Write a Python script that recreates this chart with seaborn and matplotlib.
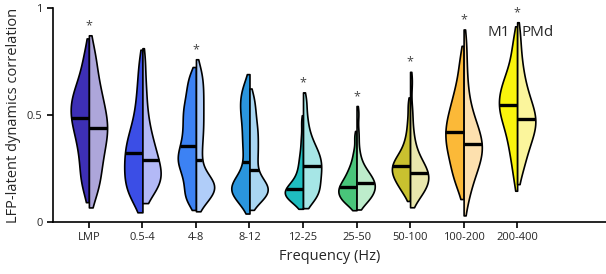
import numpy as np
import pandas as pd
import matplotlib
matplotlib.use("Agg")
import matplotlib.pyplot as plt
import seaborn as sns

bands = ["LMP", "0.5-4", "4-8", "8-12", "12-25", "25-50", "50-100", "100-200", "200-400"]
regions = ["M1", "PMd"]

# values at 5% quantile steps
m1_vals = [
    [0.15, 0.19, 0.23, 0.28, 0.32, 0.36, 0.39, 0.42, 0.45, 0.47, 0.487, 0.51, 0.53, 0.55, 0.57, 0.59, 0.61, 0.64, 0.68, 0.73, 0.80],
    [0.10, 0.12, 0.14, 0.16, 0.19, 0.21, 0.23, 0.25, 0.27, 0.295, 0.32, 0.34, 0.36, 0.38, 0.41, 0.44, 0.48, 0.53, 0.59, 0.66, 0.75],
    [0.09, 0.12, 0.155, 0.19, 0.22, 0.25, 0.27, 0.29, 0.31, 0.33, 0.355, 0.38, 0.41, 0.44, 0.47, 0.50, 0.53, 0.56, 0.60, 0.64, 0.69],
    [0.08, 0.11, 0.13, 0.14, 0.15, 0.16, 0.17, 0.18, 0.20, 0.23, 0.28, 0.33, 0.37, 0.41, 0.45, 0.49, 0.52, 0.55, 0.58, 0.61, 0.65],
    [0.09, 0.10, 0.11, 0.115, 0.12, 0.13, 0.135, 0.14, 0.145, 0.15, 0.155, 0.165, 0.175, 0.19, 0.21, 0.23, 0.26, 0.29, 0.33, 0.39, 0.47],
    [0.08, 0.09, 0.10, 0.11, 0.12, 0.125, 0.135, 0.145, 0.15, 0.16, 0.165, 0.175, 0.185, 0.195, 0.21, 0.225, 0.24, 0.26, 0.29, 0.33, 0.40],
    [0.13, 0.15, 0.17, 0.185, 0.20, 0.21, 0.22, 0.23, 0.24, 0.25, 0.26, 0.27, 0.28, 0.29, 0.30, 0.32, 0.34, 0.37, 0.41, 0.47, 0.55],
    [0.16, 0.20, 0.23, 0.26, 0.29, 0.32, 0.34, 0.36, 0.38, 0.40, 0.42, 0.44, 0.46, 0.48, 0.50, 0.53, 0.56, 0.59, 0.63, 0.69, 0.77],
    [0.20, 0.28, 0.33, 0.37, 0.41, 0.44, 0.47, 0.49, 0.51, 0.53, 0.545, 0.56, 0.58, 0.60, 0.62, 0.64, 0.66, 0.69, 0.73, 0.79, 0.86],
]
pmd_vals = [
    [0.13, 0.16, 0.20, 0.24, 0.28, 0.31, 0.34, 0.37, 0.40, 0.42, 0.44, 0.46, 0.48, 0.51, 0.54, 0.57, 0.60, 0.64, 0.69, 0.75, 0.81],
    [0.14, 0.15, 0.165, 0.18, 0.195, 0.21, 0.22, 0.235, 0.25, 0.27, 0.29, 0.31, 0.33, 0.35, 0.38, 0.41, 0.45, 0.50, 0.57, 0.65, 0.76],
    [0.09, 0.11, 0.13, 0.145, 0.16, 0.17, 0.175, 0.185, 0.20, 0.23, 0.29, 0.34, 0.39, 0.43, 0.47, 0.51, 0.55, 0.59, 0.63, 0.67, 0.72],
    [0.09, 0.11, 0.125, 0.135, 0.145, 0.155, 0.165, 0.175, 0.19, 0.21, 0.245, 0.28, 0.31, 0.34, 0.37, 0.40, 0.43, 0.46, 0.50, 0.54, 0.59],
    [0.10, 0.11, 0.13, 0.145, 0.16, 0.18, 0.20, 0.21, 0.23, 0.245, 0.26, 0.275, 0.29, 0.305, 0.32, 0.34, 0.36, 0.39, 0.43, 0.49, 0.57],
    [0.09, 0.10, 0.11, 0.12, 0.13, 0.14, 0.15, 0.16, 0.17, 0.175, 0.18, 0.19, 0.20, 0.21, 0.22, 0.235, 0.25, 0.28, 0.33, 0.41, 0.51],
    [0.11, 0.125, 0.14, 0.155, 0.17, 0.18, 0.19, 0.20, 0.21, 0.22, 0.23, 0.24, 0.25, 0.265, 0.28, 0.30, 0.33, 0.37, 0.43, 0.52, 0.66],
    [0.09, 0.16, 0.20, 0.23, 0.26, 0.28, 0.30, 0.32, 0.33, 0.35, 0.365, 0.38, 0.40, 0.42, 0.44, 0.47, 0.50, 0.55, 0.62, 0.72, 0.84],
    [0.23, 0.28, 0.32, 0.35, 0.38, 0.40, 0.42, 0.44, 0.46, 0.47, 0.48, 0.50, 0.52, 0.54, 0.56, 0.59, 0.62, 0.66, 0.71, 0.78, 0.88],
]
m1_colors = ["#3d2fb5", "#3b4ee6", "#3c82f4", "#2a95dd", "#1fbdbf", "#49c57a", "#c9c12f", "#fbb938", "#faf40c"]
pmd_colors = ["#ada6da", "#b3b9f6", "#b0cdf9", "#a9d6f2", "#a6e6e6", "#bdeccb", "#e9e7ad", "#fde0ae", "#fbf59c"]
significant = [True, False, True, False, True, True, True, True, True]
# kde smoothing per band
bw_adjust = [0.75, 0.7, 0.45, 0.5, 0.65, 0.7, 0.7, 0.75, 0.75]

rows = []
for i, b in enumerate(bands):
    for v in m1_vals[i]:
        rows.append((b, "M1", v))
    for v in pmd_vals[i]:
        rows.append((b, "PMd", v))
df = pd.DataFrame(rows, columns=["band", "region", "corr"])

sns.set_style("ticks")
plt.rcParams['font.family'] = ['Open Sans', 'DejaVu Sans']

fig = plt.figure(figsize=(6.06, 2.74), dpi=100)
ax = fig.add_axes([0.0875, 0.19, 0.9125, 0.781])

for i, b in enumerate(bands):
    sns.violinplot(data=df[df["band"] == b], x="band", y="corr", hue="region",
                   order=bands, hue_order=regions, split=True, inner=None,
                   cut=0.8, bw_adjust=bw_adjust[i], density_norm="width",
                   width=0.68, linewidth=1.2, linecolor="black",
                   palette=["#888888", "#cccccc"], legend=False, ax=ax)

# recolour each half and add the median bar
tops = {}
for coll in list(ax.collections):
    verts = coll.get_paths()[0].vertices
    xs, ys = verts[:, 0], verts[:, 1]
    pos = int(round(xs.mean()))
    left = xs.mean() < pos
    vals = m1_vals[pos] if left else pmd_vals[pos]
    coll.set_facecolor(m1_colors[pos] if left else pmd_colors[pos])
    tops[pos] = max(tops.get(pos, 0), ys.max())
    med = np.median(vals)
    mask = np.abs(xs - pos) > 1e-9
    order = np.argsort(ys[mask])
    edge = np.interp(med, ys[mask][order], xs[mask][order])
    ax.plot([edge, pos], [med, med], color="black", lw=2.4, solid_capstyle="butt", zorder=5)

for i, sig in enumerate(significant):
    if sig:
        ax.text(i, tops[i] + 0.045, "*", ha="center", va="center", fontsize=9, color="#444444")

ax.text(7.87, 0.885, "M1", ha="right", va="center", fontsize=11)
ax.text(8.09, 0.885, "PMd", ha="left", va="center", fontsize=11)

ax.set_xlim(-0.67, 9.66)
ax.set_ylim(0, 1)
ax.set_yticks([0, 0.5, 1])
ax.set_yticklabels(["0", "0.5", "1"])
ax.tick_params(axis="both", labelsize=8, length=4, width=1.2, color="black")
ax.set_xlabel("Frequency (Hz)", fontsize=10.5)
ax.set_ylabel("LFP-latent dynamics correlation", fontsize=10.5)
for s in ["left", "bottom"]:
    ax.spines[s].set_linewidth(1.2)
    ax.spines[s].set_color("black")
sns.despine(ax=ax)

fig.savefig("out.png", dpi=100)
